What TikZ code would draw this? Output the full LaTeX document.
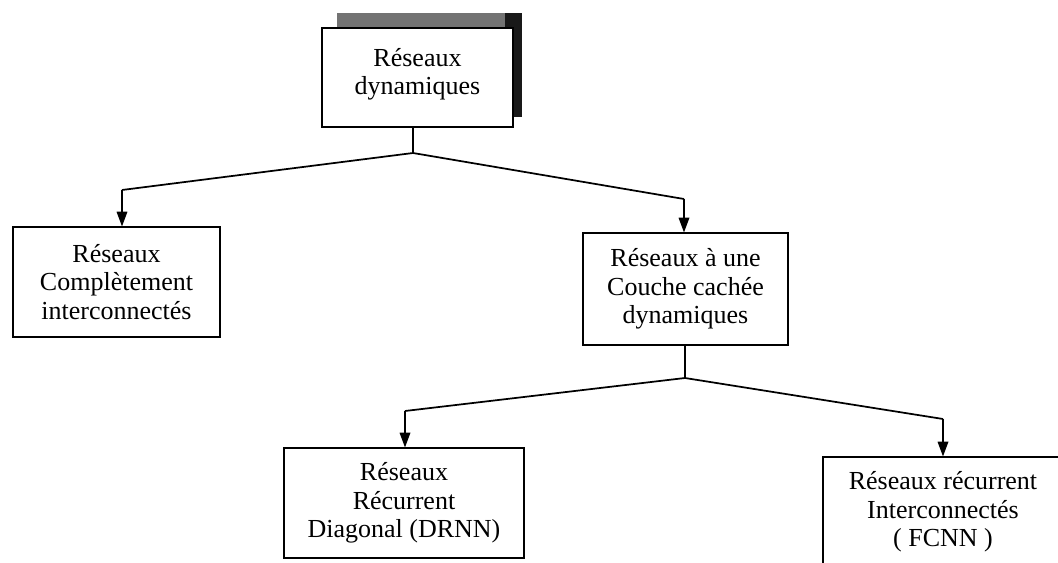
\documentclass[tikz,border=0pt]{standalone}
\usepackage{fontspec}
\setmainfont{Liberation Serif}
\usetikzlibrary{arrows.meta, positioning, calc}
\tikzset{
    box/.style={
        rectangle,
        draw=black,
        line width=0.9pt,
        fill=white,
        align=center,
        inner sep=2pt,
        font=\fontsize{19.5}{21.5}\selectfont
    },
    link/.style={line width=1.3pt},
    arrow/.style={line width=0.9pt, -{Triangle[length=11pt, width=8pt]}}
}

\begin{document}
\begin{tikzpicture}[x=0.75pt, y=-0.75pt]
    \useasboundingbox (0,0) rectangle (1058,563);
    \clip (0,0) rectangle (1058,563);

        % shadow of the top box
        \fill [black!55] (337,13) rectangle (522,28);
        \fill [black!90] (505,13) rectangle (522,117);

        \node (dyn) [box, minimum width=143.25pt, minimum height=74.25pt] at (417.5,77.5) {R\'eseaux\\dynamiques\\[-12.5pt]};
        \node (comp) [box, minimum width=155.25pt, minimum height=82.5pt] at (116.5,282) {R\'eseaux\\Compl\`etement\\interconnect\'es};
        \node (cach) [box, minimum width=153.75pt, minimum height=84pt] at (685.5,289) {R\'eseaux \`a une\\Couche cach\'ee\\dynamiques};
        \node (drnn) [box, minimum width=180pt, minimum height=82.5pt] at (404,503) {R\'eseaux\\R\'ecurrent\\Diagonal (DRNN)};
        \node (fcnn) [box, minimum width=180pt, minimum height=82.5pt] at (943,512) {R\'eseaux r\'ecurrent\\Interconnect\'es\\( FCNN )};

        \coordinate (j1) at (413,153);
        \coordinate (c1) at (122,190);
        \coordinate (c2) at (684,199);
        \coordinate (j2) at (685,378);
        \coordinate (c3) at (405,411);
        \coordinate (c4) at (943,419);

        \draw [link] (dyn.south -| j1) -- (j1);
        \draw [link] (c1) -- (j1) -- (c2);
        \draw [arrow] (c1) -- (c1 |- comp.north);
        \draw [arrow] (c2) -- (c2 |- cach.north);

        \draw [link] (cach.south -| j2) -- (j2);
        \draw [link] (c3) -- (j2) -- (c4);
        \draw [arrow] (c3) -- (c3 |- drnn.north);
        \draw [arrow] (c4) -- (c4 |- fcnn.north);

    \end{tikzpicture}
\end{document}
